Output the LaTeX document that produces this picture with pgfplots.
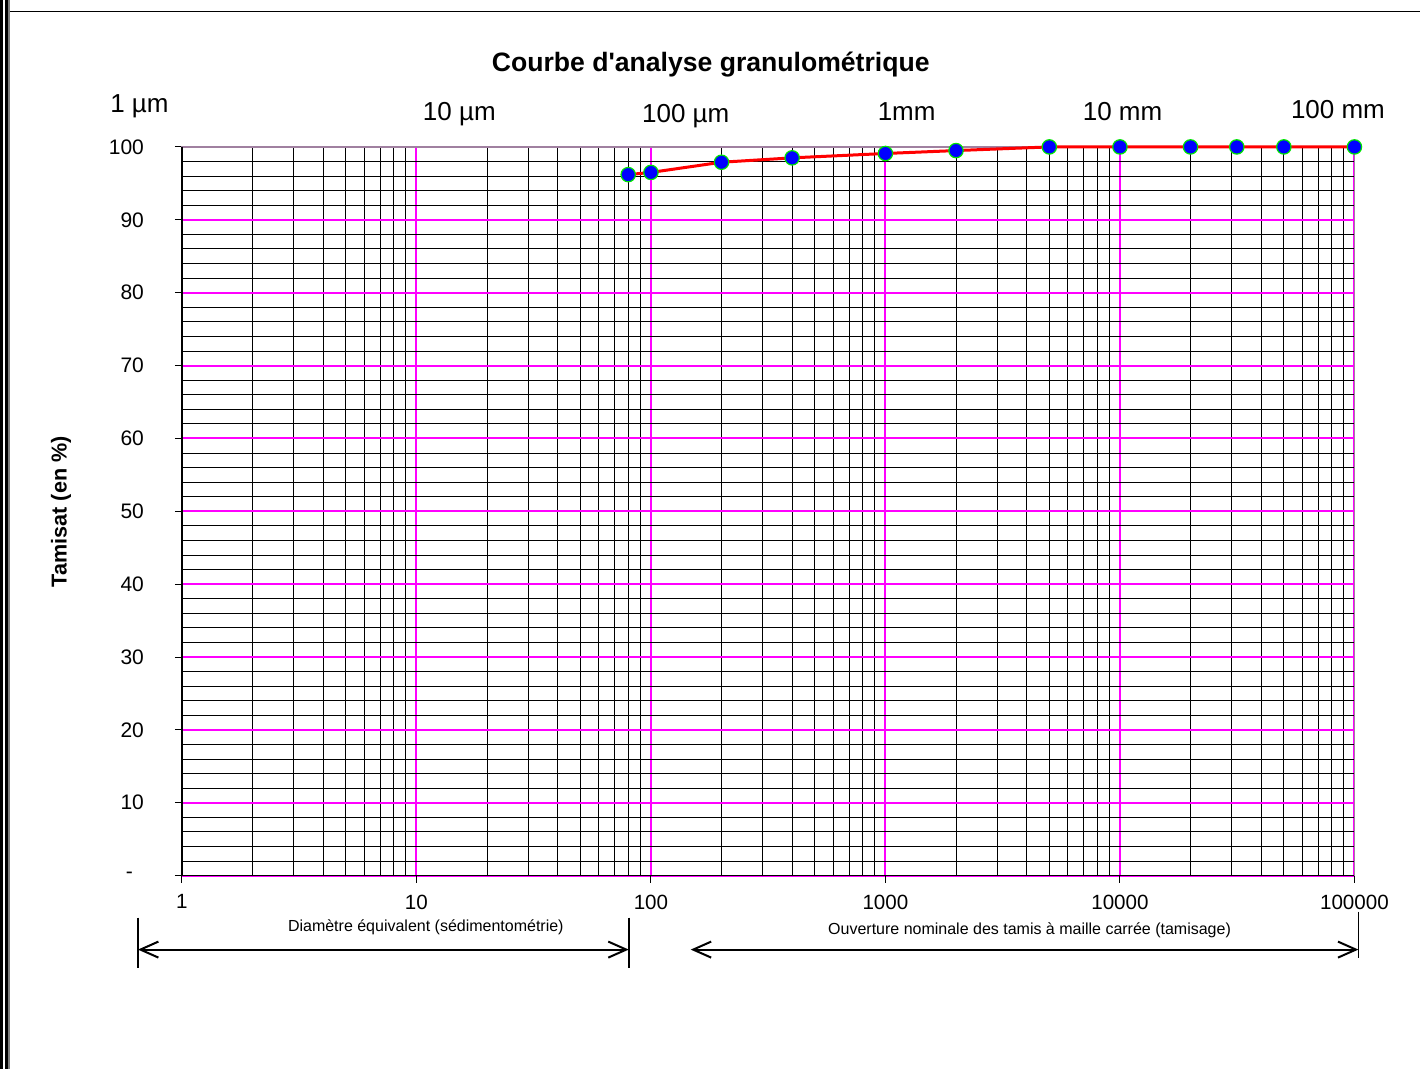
\documentclass[border=0pt]{standalone}
\usepackage{pgfplots}
\pgfplotsset{compat=1.18}
\usepackage{fontspec}
\setmainfont{Liberation Sans}
\usetikzlibrary{arrows.meta}
\definecolor{mag}{RGB}{255,0,255}
\definecolor{framec}{RGB}{160,128,160}
\definecolor{mblue}{RGB}{0,0,255}
\definecolor{mgreen}{RGB}{0,230,0}
\begin{document}
\begin{tikzpicture}
\begin{scope}[x=0.5pt,y=-0.5pt,shift={(-91pt,438pt)}]
\useasboundingbox (0,0) rectangle (1421,1069);
\end{scope}
\begin{axis}[
  at={(0,0)}, anchor=south west,
  scale only axis, width=586.5pt, height=364.5pt,
  xmode=log, xmin=1, xmax=100000, ymin=0, ymax=100,
  clip=false,
  xtick={1,10,100,1000,10000,100000},
  xticklabels={1,10,100,1000,10000,100000},
  minor xtick={2,3,4,5,6,7,8,9,20,30,40,50,60,70,80,90,200,300,400,500,600,700,800,900,2000,3000,4000,5000,6000,7000,8000,9000,20000,30000,40000,50000,60000,70000,80000,90000},
  ytick={0,10,...,100},
  yticklabels={{\makebox[9pt][l]{\raisebox{-2.5pt}{-}}},10,20,30,40,50,60,70,80,90,100},
  minor ytick={2,4,...,98},
  grid=both,
  major grid style={mag, line width=1pt},
  minor grid style={black, line width=0.45pt},
  tick align=outside, xtick pos=bottom, ytick pos=left,
  major tick length=3.5pt, minor tick length=0pt,
  tick style={black, line width=0.5pt},
  axis line style={framec, line width=0.8pt},
  /pgf/number format/assume math mode=true,
  xticklabel style={font=\fontsize{10.3}{12}\selectfont, yshift=-2.5pt},
  yticklabel style={font=\fontsize{10.5}{12}\selectfont, xshift=-12pt},
]
\draw[black, line width=0.7pt] (rel axis cs:0,0) -- (rel axis cs:0,1);
\draw[black, line width=0.7pt] (rel axis cs:0,0) -- (rel axis cs:1,0);
\addplot[red, line width=1.5pt, mark=*, mark size=3.6pt,
  mark options={fill=mblue, draw=mgreen, line width=0.6pt}]
  coordinates {(80,96.2)(100,96.5)(200,97.9)(400,98.5)(1000,99.1)(2000,99.5)
  (5000,100)(10000,100)(20000,100)(31500,100)(50000,100)(100000,100)};
\end{axis}
\begin{scope}[x=0.5pt,y=-0.5pt,shift={(-91pt,438pt)}]
  \fill[black] (0,0) rectangle (3.3,1069);
  \fill[black] (5,0) rectangle (8.3,1069);
  \fill[gray] (8.3,0) rectangle (10,1069);
  \draw[black, line width=0.6pt] (10,11.5) -- (1421,11.5);
  \node[font=\bfseries\fontsize{13.3}{15}\selectfont] at (711,65) {Courbe d\textquotesingle analyse granulométrique};
  \node[font=\bfseries\fontsize{10.8}{12}\selectfont, rotate=90] at (61,512) {Tamisat (en \%)};
  \begin{scope}[every node/.style={font=\fontsize{13}{15}\selectfont, anchor=base}]
    \node at (139.5,113) {1 µm};
    \node at (459.5,121) {10 µm};
    \node at (686,123) {100 µm};
    \node at (907,121) {1mm};
    \node at (1123,121) {10 mm};
    \node at (1338.5,119) {100 mm};
  \end{scope}
  \node[font=\fontsize{8}{9.5}\selectfont] at (426,928) {Diamètre équivalent (sédimentométrie)};
  \node[font=\fontsize{8}{9.5}\selectfont] at (1030,931) {Ouverture nominale des tamis à maille carrée (tamisage)};
  \draw[black, line width=0.9pt] (138,918) -- (138,968);
  \draw[black, line width=0.9pt] (629,918) -- (629,968);
  \draw[black, line width=0.9pt] (1359,912) -- (1359,958);
  \draw[black, line width=1pt, {Straight Barb[length=9pt,width=8pt]}-{Straight Barb[length=9pt,width=8pt]}] (138,950) -- (629,950);
  \draw[black, line width=1pt, {Straight Barb[length=9pt,width=8pt]}-{Straight Barb[length=9pt,width=8pt]}] (691,950) -- (1359,950);
\end{scope}
\end{tikzpicture}
\end{document}
